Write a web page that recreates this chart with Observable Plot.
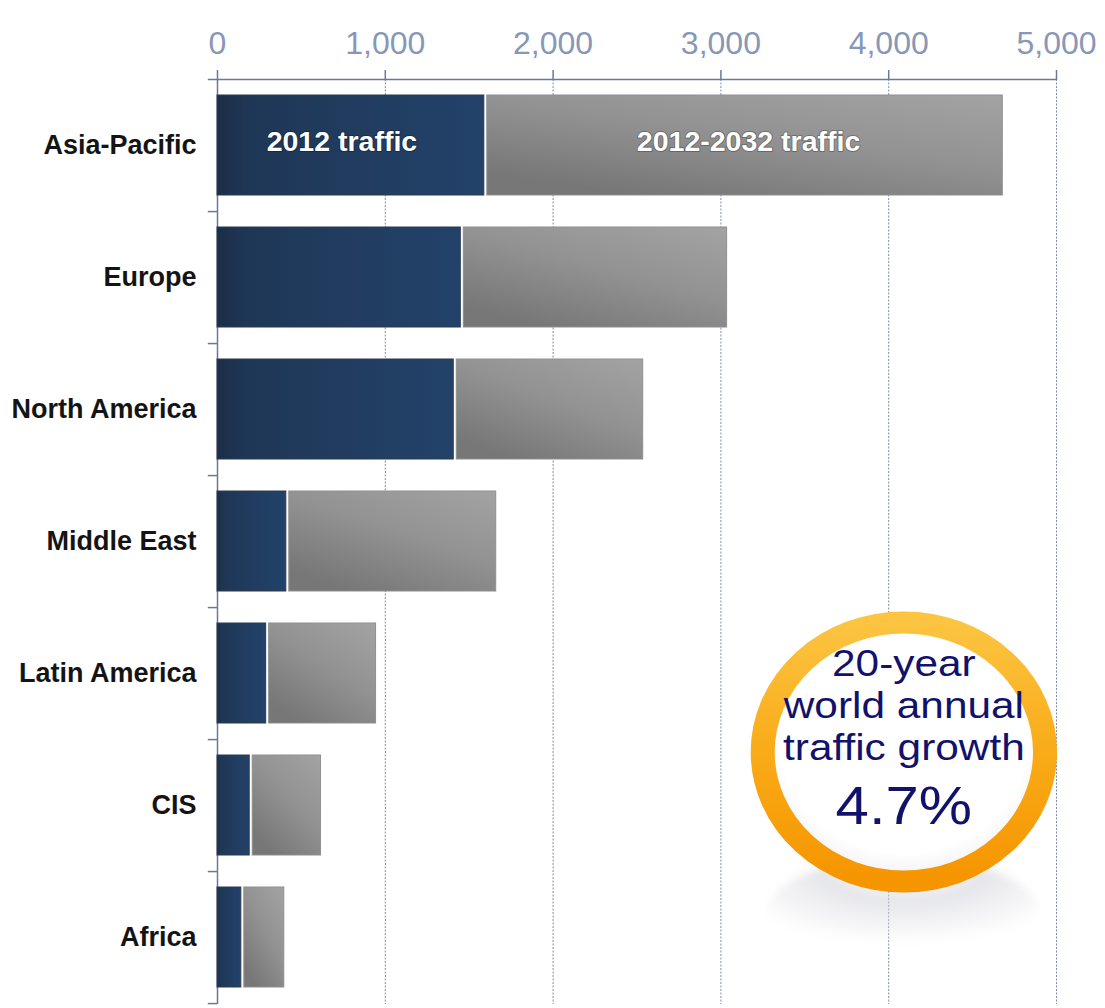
<!DOCTYPE html>
<html><head><meta charset="utf-8">
<script src="https://cdn.jsdelivr.net/npm/d3@7"></script>
<script src="https://cdn.jsdelivr.net/npm/@observablehq/plot@0.6"></script>
<style>
body{margin:0;background:#fff}
svg{font-family:"Liberation Sans",Arial,Helvetica,sans-serif}
</style>
</head><body><div id="chart"></div>
<script>
// ---- data ----
const regions = ["Asia-Pacific","Europe","North America","Middle East","Latin America","CIS","Africa"];
const traffic2012 = [1590, 1450, 1408, 410, 290, 192, 142];
const traffic2032 = [4680, 3037, 2537, 1661, 945, 617, 398];
const xTicks = [0, 1000, 2000, 3000, 4000, 5000];
const segmentLabels = ["2012 traffic", "2012-2032 traffic"];
const badgeLines = ["20-year", "world annual", "traffic growth"];
const badgeValue = "4.7%";
const badgeX = 4090;
const badgeRegion = "CIS";

const data = regions.map((r, i) => ({region: r, t2012: traffic2012[i], t2032: traffic2032[i]}));

const W = 1105, H = 1008, mT = 79, mB = 4, mL = 217, mR = 49;
const step = (H - mT - mB) / regions.length;
const axisColor = "#6b7899";
const badgeDy = -53.5;

const plot = Plot.plot({
  width: W, height: H,
  marginTop: mT, marginBottom: mB, marginLeft: mL, marginRight: mR,
  style: {background: "#fff", overflow: "visible"},
  x: {domain: [0, 5000], axis: null},
  y: {domain: regions, axis: null, paddingInner: 0.24, paddingOuter: 0.12},
  marks: [
    // gridlines
    Plot.ruleX(xTicks.slice(1), {x: d => d, stroke: "#7f8aa6", strokeWidth: 1, strokeDasharray: "2,1.5"}),
    // left axis line
    Plot.ruleX([0], {x: d => d, stroke: axisColor, strokeWidth: 1.5}),
    // top axis line (extends left as top tick)
    Plot.ruleY([regions[0]], {y: d => d, x1: -55, x2: 5000, dy: -step / 2, stroke: axisColor, strokeWidth: 1.5}),
    // band boundary ticks on the left
    Plot.ruleY(regions, {y: d => d, x1: -55, x2: 0, dy: step / 2, stroke: axisColor, strokeWidth: 1.5}),
    // x ticks (top)
    Plot.axisX({anchor: "top", ticks: xTicks, tickSize: 10, tickFormat: () => "", color: axisColor, strokeWidth: 1.5}),
    // x tick labels
    Plot.text(xTicks, {x: d => d, frameAnchor: "top", dy: -26, lineAnchor: "bottom", text: d => d3.format(",")(d),
      fontSize: 32, fill: "#8797b7"}),
    // y labels
    Plot.text(regions, {y: d => d, x: 0, dx: -21, textAnchor: "end", text: d => d,
      fontSize: 27, fontWeight: "bold", fill: "#141414"}),
    // bars
    Plot.barX(data, {y: "region", x1: 0, x2: "t2012", fill: "url(#gDark)", stroke: "#2a3a52", strokeWidth: 1}),
    Plot.barX(data, {y: "region", x1: "t2012", x2: "t2032", insetLeft: 3, fill: "url(#gGray)", stroke: "#8f8f8f", strokeWidth: 1}),
    // segment labels on the first bar
    Plot.text([data[0]], {y: "region", x: d => d.t2012 / 2, dx: -9, dy: -4, text: () => segmentLabels[0],
      fill: "white", fontSize: 28.5, fontWeight: "bold", stroke: "rgba(0,0,0,0.25)", strokeWidth: 2, paintOrder: "stroke"}),
    Plot.text([data[0]], {y: "region", x: d => (d.t2012 + d.t2032) / 2, dx: 5, dy: -4, text: () => segmentLabels[1],
      fill: "white", fontSize: 28.5, fontWeight: "bold", stroke: "rgba(0,0,0,0.25)", strokeWidth: 2, paintOrder: "stroke"}),
    // badge
    Plot.dot([badgeRegion], {y: d => d, x: () => badgeX, dy: badgeDy, r: 129.5, fill: "url(#gInner)",
      stroke: "url(#gRing)", strokeWidth: 22, ariaDescription: "badge-ring"}),
    ...badgeLines.map((line, i) => Plot.text([badgeRegion], {y: d => d, x: () => badgeX,
      dy: [-142, -100, -58][i], text: () => line, fontSize: 37.5, fill: "#12126c", ariaDescription: "badge-text"})),
    Plot.text([badgeRegion], {y: d => d, x: () => badgeX, dy: 2, text: () => badgeValue, fontSize: 53, fill: "#12126c", ariaDescription: "badge-text"})
  ]
});

// gradients
const ns = "http://www.w3.org/2000/svg";
const defs = document.createElementNS(ns, "defs");
defs.innerHTML = `
<linearGradient id="gDark" x1="0" y1="0" x2="1" y2="0">
  <stop offset="0" stop-color="#1c2e47"/>
  <stop offset="0.12" stop-color="#1f3756"/>
  <stop offset="1" stop-color="#23426a"/>
</linearGradient>
<linearGradient id="gGray" x1="1" y1="0" x2="0.3" y2="1">
  <stop offset="0" stop-color="#a3a3a3"/>
  <stop offset="0.5" stop-color="#929292"/>
  <stop offset="1" stop-color="#777777"/>
</linearGradient>
<linearGradient id="gRing" x1="0" y1="0" x2="0" y2="1">
  <stop offset="0" stop-color="#fcc441"/>
  <stop offset="0.5" stop-color="#f9ab18"/>
  <stop offset="1" stop-color="#f59500"/>
</linearGradient>
<radialGradient id="gInner" cx="0.5" cy="0.45" r="0.55">
  <stop offset="0.8" stop-color="#ffffff"/>
  <stop offset="1" stop-color="#f0f0f0"/>
</radialGradient>
<radialGradient id="gShadow" cx="0.5" cy="0.1" r="0.75">
  <stop offset="0" stop-color="#ffffff" stop-opacity="0"/>
  <stop offset="0.4" stop-color="#cfd0d8" stop-opacity="0.55"/>
  <stop offset="0.75" stop-color="#e2e2e6" stop-opacity="0.3"/>
  <stop offset="1" stop-color="#ffffff" stop-opacity="0"/>
</radialGradient>
<filter id="blur" x="-20%" y="-50%" width="140%" height="200%"><feGaussianBlur stdDeviation="5"/></filter>`;
plot.insertBefore(defs, plot.firstChild);

// horizontal stretch of the badge (as in the reference), around its centre from the x scale
const sx = plot.scale("x"), sy = plot.scale("y");
const cx = sx.apply(badgeX), cy = sy.apply(badgeRegion) + sy.bandwidth / 2 + badgeDy;
const stretch = (k) => `translate(${cx},0) scale(${k},1) translate(${-cx},0)`;
function stretchGroups(label, k) {
  const groups = [...plot.querySelectorAll(`g[aria-description='${label}']`)];
  groups.forEach(g => {
    const t = g.getAttribute("transform") || "";
    g.setAttribute("transform", stretch(k) + " " + t);
  });
  return groups;
}
const ringGroups = stretchGroups("badge-ring", 1.09);
stretchGroups("badge-text", 1.13);

// reflection under badge
const ell = document.createElementNS(ns, "ellipse");
ell.setAttribute("cx", cx); ell.setAttribute("cy", cy + 160);
ell.setAttribute("rx", 135); ell.setAttribute("ry", 55);
ell.setAttribute("fill", "url(#gShadow)"); ell.setAttribute("filter", "url(#blur)");
if (ringGroups.length) ringGroups[0].parentNode.insertBefore(ell, ringGroups[0]);
else plot.appendChild(ell);

document.getElementById("chart").appendChild(plot);
</script>
</body></html>
